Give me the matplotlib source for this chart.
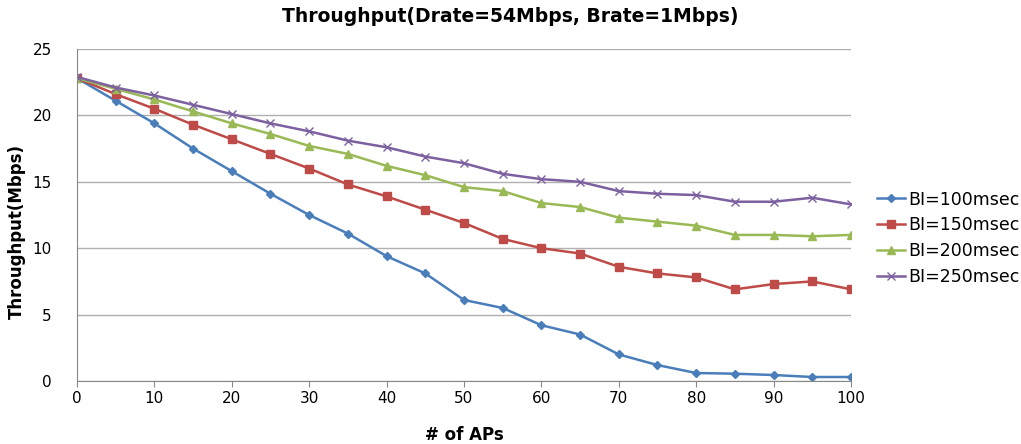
import numpy as np
import matplotlib.pyplot as plt

aps = [0, 5, 10, 15, 20, 25, 30, 35, 40, 45, 50, 55, 60, 65, 70, 75, 80, 85, 90, 95, 100]
bi100 = [22.8, 21.1, 19.4, 17.5, 15.8, 14.1, 12.5, 11.1, 9.4, 8.1, 6.1, 5.5, 4.2, 3.5, 2.0, 1.2, 0.6, 0.55, 0.45, 0.3, 0.3]
bi150 = [22.8, 21.6, 20.5, 19.3, 18.2, 17.1, 16.0, 14.8, 13.9, 12.9, 11.9, 10.7, 10.0, 9.6, 8.6, 8.1, 7.8, 6.9, 7.3, 7.5, 6.9]
bi200 = [22.8, 22.0, 21.2, 20.3, 19.4, 18.6, 17.7, 17.1, 16.2, 15.5, 14.6, 14.3, 13.4, 13.1, 12.3, 12.0, 11.7, 11.0, 11.0, 10.9, 11.0]
bi250 = [22.9, 22.1, 21.5, 20.8, 20.1, 19.4, 18.8, 18.1, 17.6, 16.9, 16.4, 15.6, 15.2, 15.0, 14.3, 14.1, 14.0, 13.5, 13.5, 13.8, 13.3]
labels = ["BI=100msec", "BI=150msec", "BI=200msec", "BI=250msec"]

fig = plt.figure(figsize=(10.21, 4.44), dpi=100)
ax = fig.add_axes([0.0754, 0.1419, 0.7581, 0.7477])

ax.plot(aps, bi100, color="#4a7ebb", marker="D", markersize=4, lw=1.8, label=labels[0])
ax.plot(aps, bi150, color="#be4b48", marker="s", markersize=6, lw=1.8, label=labels[1])
ax.plot(aps, bi200, color="#98b954", marker="^", markersize=6, lw=1.8, label=labels[2])
ax.plot(aps, bi250, color="#7d60a0", marker="x", markersize=6, mew=1, lw=1.8, label=labels[3])

ax.set_xlim(0, 100)
ax.set_ylim(0, 25)
ax.set_xticks(np.arange(0, 101, 10))
ax.set_yticks(np.arange(0, 26, 5))
ax.yaxis.grid(True, color="#b0b0b0", lw=1)
ax.set_axisbelow(True)
for s in ["top", "right"]:
    ax.spines[s].set_visible(False)
for s in ["left", "bottom"]:
    ax.spines[s].set_color("#888888")
ax.tick_params(axis="both", labelsize=11, color="#888888", length=4)
ax.tick_params(axis="y", length=0, pad=18)

fig.suptitle("Throughput(Drate=54Mbps, Brate=1Mbps)", x=0.5, y=0.985, fontsize=13.5, fontweight="bold")
ax.set_xlabel("# of APs", fontsize=12, fontweight="bold", labelpad=14)
ax.set_ylabel("Throughput(Mbps)", fontsize=12, fontweight="bold")
ax.yaxis.set_label_coords(-0.066, 0.45)

ax.legend(loc="center left", bbox_to_anchor=(1.014, 0.43), frameon=False, fontsize=12.5,
          handlelength=1.6, handletextpad=0.2, labelspacing=0.45)

fig.savefig("out.png", dpi=100)
